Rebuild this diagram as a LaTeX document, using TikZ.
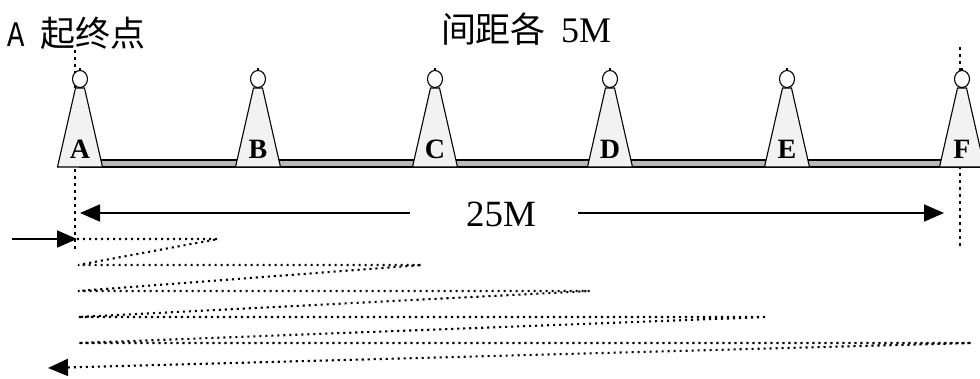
\documentclass[tikz,border=0pt]{standalone}
\usepackage{fontspec}
\setmainfont{Liberation Serif}
\newfontfamily\cjk{Noto Sans CJK SC}
\newfontfamily\mono{Liberation Mono}
\usetikzlibrary{arrows.meta}

\begin{document}
\begin{tikzpicture}[x=1pt,y=-1pt]
	\tikzstyle{tower}=[draw=black,fill=gray!10,line width=1.1pt]
	\tikzstyle{letter}=[font=\bfseries\fontsize{28}{28}\selectfont,inner sep=0pt]
	\tikzstyle{endline}=[line width=2.8pt,dash pattern=on 2.8pt off 4.2pt]
	\tikzstyle{track}=[line width=2.1pt,dash pattern=on 2.1pt off 3.9pt]
	\tikzstyle{lenarrow}=[line width=1.8pt,-{Triangle[length=20pt,width=17pt]}]
	\useasboundingbox (0,0) rectangle (980,378);
	\clip (0,0) rectangle (980,378);
	% dotted start and end lines
	\coordinate (topA) at (75,50);
	\coordinate (botA) at (75,250);
	\coordinate (topF) at (960,47);
	\coordinate (botF) at (960,247);
	\draw[endline] (topA) -- (botA);
	\draw[endline] (topF) -- (botF);
	% track
	\draw[line width=2pt,fill=gray!55] (80,160) rectangle (990,167);
	\foreach \n/\x in {A/80,B/258,C/435,D/610,E/787,F/962} {
		\draw[tower] (\x-4.5,88) -- (\x+4.5,88) -- (\x+22.5,167) -- (\x-22.5,167) -- cycle;
		\draw[line width=1.1pt,fill=white] (\x,79) ellipse [x radius=7.5pt,y radius=8.5pt];
		\draw[line width=1.1pt] (\x,70.5) -- (\x,68);
		\node[letter] (\n) at (\x,149) {\n};
	}
	% labels
	\node[anchor=west,inner sep=0pt] (start) at (7,33)
		{\scalebox{0.8}[1]{\mono\fontsize{36}{36}\selectfont A}\hspace{16pt}{\cjk\fontsize{35}{35}\selectfont 起终点}};
	\node[inner sep=0pt] (gap) at (526,29)
		{{\cjk\fontsize{35}{35}\selectfont 间距各}\hspace{15pt}{\fontsize{36}{36}\selectfont 5M}};
	\node[inner sep=0pt,font=\fontsize{37}{37}\selectfont] (len) at (501,214) {25M};
	% 25M arrows
	\coordinate (lenL) at (410,213);
	\coordinate (lenR) at (578,213);
	\coordinate (ptA) at (80,213);
	\coordinate (ptF) at (944,213);
	\draw[lenarrow] (lenL) -- (ptA);
	\draw[lenarrow] (lenR) -- (ptF);
	% zigzag run
	\coordinate (inL) at (12,239);
	\coordinate (in) at (77,239);
	\coordinate (r1) at (218,239);
	\coordinate (l2) at (78,265);
	\coordinate (r2) at (422,265);
	\coordinate (l3) at (78,291);
	\coordinate (r3) at (590,291);
	\coordinate (l4) at (78,317);
	\coordinate (r4) at (767,317);
	\coordinate (l5) at (78,343);
	\coordinate (r5) at (972,343);
	\coordinate (out) at (48,368);
	\draw[lenarrow] (inL) -- (in);
	\draw[track,-{Triangle[length=20pt,width=17pt]}]
		(in) -- (r1) -- (l2) -- (r2) -- (l3) -- (r3) -- (l4) -- (r4) -- (l5) -- (r5) -- (out);
\end{tikzpicture}
\end{document}
